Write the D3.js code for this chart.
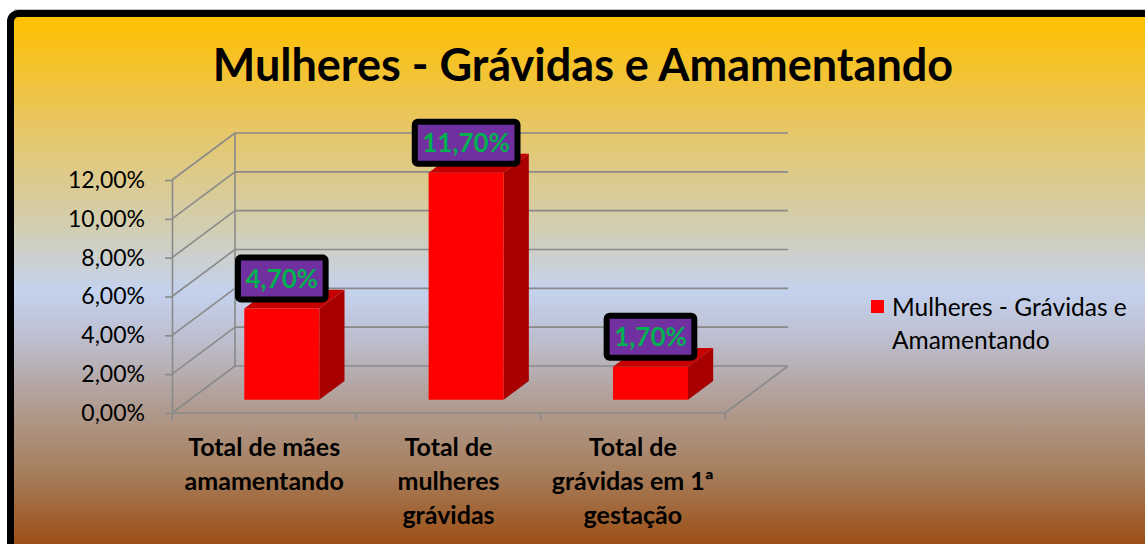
<!DOCTYPE html>
<html>
<head>
<meta charset="utf-8">
<script src="https://cdn.jsdelivr.net/npm/d3@7"></script>
<style>
  body { margin: 0; background: #fff; }
  svg { display: block; font-family: Lato, "Open Sans", sans-serif; }
</style>
</head>
<body>
<div id="chart"></div>
<script>
var width = 1145, height = 544;

// data
var title = "Mulheres - Grávidas e Amamentando";
var seriesName = ["Mulheres - Grávidas e", "Amamentando"];
var categories = ["Total de mães amamentando", "Total de mulheres grávidas", "Total de grávidas em 1ª gestação"];
var categoryLines = [["Total de mães", "amamentando"], ["Total de", "mulheres", "grávidas"], ["Total de", "grávidas em 1ª", "gestação"]];
var values = [0.047, 0.117, 0.017];
var yTicks = [0, 0.02, 0.04, 0.06, 0.08, 0.10, 0.12];

var ptBR = d3.formatLocale({decimal: ",", thousands: ".", grouping: [3], currency: ["R$", ""]});
var pct = ptBR.format(".2%");

// oblique depth of the 3d box
var depthX = 63, depthY = 47;
var barFront = 0.28, barBack = 0.68;

var svg = d3.select("#chart").append("svg").attr("width", width).attr("height", height);

var defs = svg.append("defs");
var grad = defs.append("linearGradient").attr("id", "bg")
    .attr("gradientUnits", "userSpaceOnUse")
    .attr("x1", 0).attr("y1", 17).attr("x2", 0).attr("y2", 544);
[[0, "#ffc000"], [0.08, "#f6c226"], [0.22, "#e6c76a"], [0.4, "#d2ceb2"], [0.52, "#c4d2ee"],
 [0.62, "#bcbccb"], [0.74, "#b09b90"], [0.86, "#a7805f"], [1, "#9c4f16"]].forEach(function(s) {
  grad.append("stop").attr("offset", s[0]).attr("stop-color", s[1]);
});

// frame
svg.append("line").attr("x1", 14).attr("x2", width).attr("y1", 9.5).attr("y2", 9.5)
    .attr("stroke", "#c4c4c4").attr("stroke-width", 1);
svg.append("rect")
    .attr("x", 10.5).attr("y", 13.5)
    .attr("width", 1300).attr("height", 700)
    .attr("rx", 8)
    .attr("fill", "url(#bg)")
    .attr("stroke", "#000").attr("stroke-width", 7);

// title
svg.append("text")
    .attr("x", 583).attr("y", 81)
    .attr("text-anchor", "middle")
    .attr("font-size", 45).attr("font-weight", "bold")
    .text(title);

var x = d3.scaleBand().domain(categories).range([172, 725]);
var y = d3.scaleLinear().domain([0, 0.12]).range([413, 180]);

function px(xv, d) { return xv + d * depthX; }
function py(v, d) { return y(v) - d * depthY; }

var grid = svg.append("g").attr("stroke", "#8a8a8a").attr("stroke-width", 1.6).attr("fill", "none");

// back wall lines and left wall diagonals
yTicks.forEach(function(t) {
  grid.append("line")
      .attr("x1", px(172, 1)).attr("x2", px(725, 1))
      .attr("y1", py(t, 1)).attr("y2", py(t, 1));
  grid.append("line")
      .attr("x1", px(172, 0)).attr("x2", px(172, 1))
      .attr("y1", py(t, 0)).attr("y2", py(t, 1));
});
grid.append("line")
    .attr("x1", px(172, 1)).attr("x2", px(172, 1))
    .attr("y1", py(0, 1)).attr("y2", py(0.12, 1));
// floor
grid.append("line")
    .attr("x1", 172).attr("x2", 725).attr("y1", y(0)).attr("y2", y(0));
grid.append("line")
    .attr("x1", px(725, 0)).attr("x2", px(725, 1))
    .attr("y1", py(0, 0)).attr("y2", py(0, 1));
// category separators
x.domain().map(function(c) { return x(c); }).concat([725]).forEach(function(xv) {
  grid.append("line").attr("x1", xv).attr("x2", xv).attr("y1", y(0)).attr("y2", y(0) + 7);
});

// value axis
var yAxis = svg.append("g")
    .attr("transform", "translate(172,0)")
    .call(d3.axisLeft(y).tickValues(yTicks).tickFormat(pct).tickSize(7).tickSizeOuter(0).tickPadding(20));
yAxis.select(".domain").attr("stroke", "#8a8a8a").attr("stroke-width", 1.6);
yAxis.selectAll(".tick line").attr("stroke", "#8a8a8a").attr("stroke-width", 1.6);
yAxis.selectAll(".tick text")
    .attr("font-family", "Lato, sans-serif")
    .attr("font-size", 23).attr("fill", "#000");

// bars
var barW = 75;
var bars = svg.append("g").selectAll("g")
    .data(values)
    .enter().append("g");

bars.each(function(v, i) {
  var g = d3.select(this);
  var cx = x(categories[i]) + x.bandwidth() / 2;
  var x0 = cx - barW / 2, x1 = cx + barW / 2;
  var front = [[px(x0, barFront), py(0, barFront)], [px(x1, barFront), py(0, barFront)],
               [px(x1, barFront), py(v, barFront)], [px(x0, barFront), py(v, barFront)]];
  var side = [[px(x1, barFront), py(0, barFront)], [px(x1, barBack), py(0, barBack)],
              [px(x1, barBack), py(v, barBack)], [px(x1, barFront), py(v, barFront)]];
  var top = [[px(x0, barFront), py(v, barFront)], [px(x1, barFront), py(v, barFront)],
             [px(x1, barBack), py(v, barBack)], [px(x0, barBack), py(v, barBack)]];
  g.append("polygon").attr("points", side.join(" ")).attr("fill", "#a80000");
  g.append("polygon").attr("points", top.join(" ")).attr("fill", "#c40000");
  g.append("polygon").attr("points", front.join(" ")).attr("fill", "#ff0000");
});

// data labels
bars.each(function(v, i) {
  var cx = x(categories[i]) + x.bandwidth() / 2 + barFront * depthX;
  var cy = py(v, barFront) - 30;
  var g = d3.select(this).append("g").attr("transform", "translate(" + cx + "," + cy + ")");
  var box = g.append("rect");
  var t = g.append("text")
      .attr("text-anchor", "middle").attr("dy", "0.36em")
      .attr("font-size", 26).attr("font-weight", "bold")
      .attr("fill", "#00b050")
      .text(ptBR.format(".2%")(v));
  var w = t.node().getComputedTextLength() + 15;
  box.attr("x", -w / 2).attr("y", -21).attr("width", w).attr("height", 42)
      .attr("rx", 3)
      .attr("fill", "#7030a0").attr("stroke", "#000").attr("stroke-width", 6);
});

// category labels
categoryLines.forEach(function(lines, i) {
  var cx = x(categories[i]) + x.bandwidth() / 2;
  var t = svg.append("text")
      .attr("text-anchor", "middle")
      .attr("font-size", 25).attr("font-weight", "bold");
  lines.forEach(function(l, j) {
    t.append("tspan").attr("x", cx).attr("y", 456 + j * 34).text(l);
  });
});

// legend
svg.append("rect").attr("x", 871).attr("y", 300).attr("width", 13).attr("height", 13).attr("fill", "#ff0000");
var leg = svg.append("text").attr("font-size", 24.5);
seriesName.forEach(function(l, j) {
  leg.append("tspan").attr("x", 892).attr("y", 316 + j * 33).text(l);
});
</script>
</body>
</html>
